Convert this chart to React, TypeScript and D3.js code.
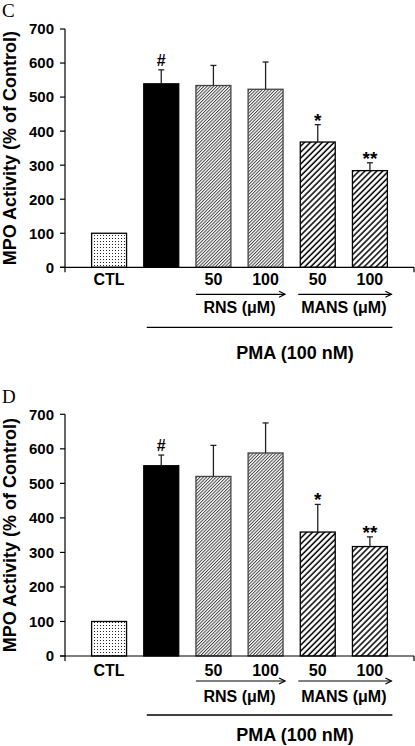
import React from "react";
import * as d3 from "d3";

const categories = ["CTL", "PMA", "RNS50", "RNS100", "MANS50", "MANS100"];
const xLabels = ["CTL", "", "50", "100", "50", "100"];
const fills = ["dots", "black", "fine", "fine", "coarse", "coarse"];
const marks = ["", "#", "", "", "*", "**"];
const yTicks = [0, 100, 200, 300, 400, 500, 600, 700];

const valuesC = [100, 539, 534, 523, 368, 284];
const errorsC = [0, 41, 59, 80, 51, 23];
const valuesD = [100, 551, 520, 588, 359, 317];
const errorsD = [0, 31, 90, 87, 80, 28];

const FONT = "'Liberation Sans', Arial, Helvetica, sans-serif";

const x = d3
  .scaleBand<string>()
  .domain(categories)
  .range([65, 414])
  .paddingInner(0.33)
  .paddingOuter(0.51);

type PanelProps = {
  letter: string;
  letterY: number;
  top: number;
  bottom: number;
  values: number[];
  errors: number[];
  off: { cat: number; arrow: number; grp: number; line: number; pma: number };
};

function Panel({ letter, letterY, top, bottom, values, errors, off }: PanelProps) {
  const y = d3.scaleLinear().domain([0, 700]).range([bottom, top]);
  const bw = x.bandwidth();
  const y0 = y(0);
  const cx = (c: string) => (x(c) as number) + bw / 2;
  const arrow = (x1: number, x2: number, yy: number, key: string) => (
    <g key={key} stroke="#000" strokeWidth={1.2} fill="none">
      <line x1={x1} x2={x2} y1={yy} y2={yy} />
      <path d={`M${x2 - 6},${yy - 3} L${x2},${yy} L${x2 - 6},${yy + 3}`} />
    </g>
  );
  return (
    <g>
      <text x={2} y={letterY} fontFamily="'Liberation Serif', 'Times New Roman', serif" fontSize={19}>
        {letter}
      </text>
      <text
        transform={`translate(16,${(top + bottom) / 2}) rotate(-90)`}
        textAnchor="middle"
        fontFamily={FONT}
        fontWeight="bold"
        fontSize={18}
      >
        MPO Activity (% of Control)
      </text>
      {/* y axis */}
      <line x1={65} x2={65} y1={top} y2={y0 + 5} stroke="#000" strokeWidth={1.2} />
      {yTicks.map((t) => (
        <g key={t}>
          <line x1={60} x2={65} y1={y(t)} y2={y(t)} stroke="#000" strokeWidth={1.2} />
          <text
            x={54}
            y={y(t)}
            dy="0.36em"
            textAnchor="end"
            fontFamily={FONT}
            fontWeight="bold"
            fontSize={15}
          >
            {t}
          </text>
        </g>
      ))}
      {/* bars */}
      {categories.map((c, i) => {
        const bx = x(c) as number;
        const by = y(values[i]);
        const fill =
          fills[i] === "black" ? "#000" : `url(#pat-${fills[i]})`;
        const stroke = fills[i] === "fine" ? "#444" : "#000";
        return (
          <rect
            key={c}
            x={bx}
            y={by}
            width={bw}
            height={y0 - by}
            fill={fill}
            stroke={stroke}
            strokeWidth={1.3}
          />
        );
      })}
      {/* error bars */}
      {categories.map((c, i) => {
        if (!errors[i]) return null;
        const et = y(values[i] + errors[i]);
        return (
          <g key={c} stroke="#222" strokeWidth={1.3}>
            <line x1={cx(c)} x2={cx(c)} y1={y(values[i])} y2={et} />
            <line x1={cx(c) - 3} x2={cx(c) + 3} y1={et} y2={et} />
          </g>
        );
      })}
      {/* significance marks */}
      {categories.map((c, i) => {
        if (!marks[i]) return null;
        const et = y(values[i] + errors[i]);
        const yy = marks[i] === "#" ? et - 4 : et + 2;
        return (
          <text
            key={c}
            x={cx(c)}
            y={yy}
            textAnchor="middle"
            fontFamily={FONT}
            fontWeight="bold"
            fontSize={marks[i] === "#" ? 16 : 19}
          >
            {marks[i]}
          </text>
        );
      })}
      {/* x axis */}
      <line x1={60} x2={414} y1={y0} y2={y0} stroke="#000" strokeWidth={1.2} />
      <line x1={414} x2={414} y1={y0} y2={y0 + 5} stroke="#000" strokeWidth={1.2} />
      {categories.map((c, i) =>
        xLabels[i] ? (
          <text
            key={c}
            x={cx(c)}
            y={y0 + off.cat}
            textAnchor="middle"
            fontFamily={FONT}
            fontWeight="bold"
            fontSize={16}
          >
            {xLabels[i]}
          </text>
        ) : null
      )}
      {arrow(x("RNS50") as number, (x("RNS100") as number) + bw + 2, y0 + off.arrow, "a1")}
      {arrow(x("MANS50") as number - 2, (x("MANS100") as number) + bw + 4, y0 + off.arrow, "a2")}
      <text
        x={((x("RNS50") as number) + (x("RNS100") as number) + bw) / 2}
        y={y0 + off.grp}
        textAnchor="middle"
        fontFamily={FONT}
        fontWeight="bold"
        fontSize={16}
      >
        RNS (μM)
      </text>
      <text
        x={((x("MANS50") as number) + (x("MANS100") as number) + bw) / 2}
        y={y0 + off.grp}
        textAnchor="middle"
        fontFamily={FONT}
        fontWeight="bold"
        fontSize={16}
      >
        MANS (μM)
      </text>
      <line
        x1={(x("PMA") as number) + 3}
        x2={(x("MANS100") as number) + bw + 5}
        y1={y0 + off.line}
        y2={y0 + off.line}
        stroke="#000"
        strokeWidth={1.3}
      />
      <text
        x={295}
        y={y0 + off.pma}
        textAnchor="middle"
        fontFamily={FONT}
        fontWeight="bold"
        fontSize={18}
      >
        PMA (100 nM)
      </text>
    </g>
  );
}

export default function App() {
  return (
    <svg
      width={415}
      height={746}
      style={{ position: "absolute", left: 0, top: 0, background: "#fff" }}
    >
      <defs>
        <pattern id="pat-dots" patternUnits="userSpaceOnUse" width={3} height={3}>
          <rect width={3} height={3} fill="#fff" />
          <rect x={1} y={1} width={1} height={1} fill="#222" />
        </pattern>
        <pattern
          id="pat-fine"
          patternUnits="userSpaceOnUse"
          width={2.3}
          height={2.3}
          patternTransform="rotate(45)"
        >
          <rect width={2.3} height={2.3} fill="#fff" />
          <line x1={0.5} x2={0.5} y1={0} y2={2.3} stroke="#333" strokeWidth={0.9} />
        </pattern>
        <pattern
          id="pat-coarse"
          patternUnits="userSpaceOnUse"
          width={4.2}
          height={4.2}
          patternTransform="rotate(45)"
        >
          <rect width={4.2} height={4.2} fill="#fff" />
          <line x1={1} x2={1} y1={0} y2={4.2} stroke="#000" strokeWidth={1.5} />
        </pattern>
      </defs>
      <rect width={415} height={746} fill="#fff" />
      <Panel
        letter="C"
        letterY={17}
        top={29}
        bottom={267.3}
        values={valuesC}
        errors={errorsC}
        off={{ cat: 18, arrow: 27, grp: 46, line: 60, pma: 92 }}
      />
      <Panel
        letter="D"
        letterY={403}
        top={414.3}
        bottom={656}
        values={valuesD}
        errors={errorsD}
        off={{ cat: 20, arrow: 25, grp: 46, line: 59, pma: 85 }}
      />
    </svg>
  );
}
